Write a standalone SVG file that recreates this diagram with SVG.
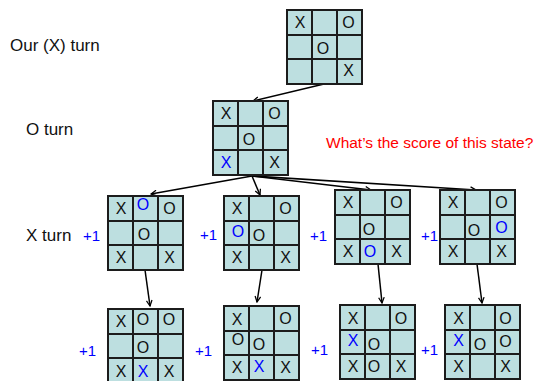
<svg xmlns="http://www.w3.org/2000/svg" width="540" height="381" viewBox="0 0 540 381">
<style>
.bd{fill:#bddfe0;stroke:#1c1c1c;stroke-width:2}
.gl{stroke:#1c1c1c;stroke-width:2}
.m{font-family:"Liberation Sans",Arial,sans-serif;font-size:16px;fill:#111;text-anchor:middle}
.b{fill:#0000ff}
.lbl{font-family:"Liberation Sans",Arial,sans-serif;font-size:17px;fill:#111}
.p1{font-family:"Liberation Sans",Arial,sans-serif;font-size:15px;fill:#0000ff}
.ar{stroke:#000;stroke-width:1.5;fill:none;marker-end:url(#ah)}
</style>
<defs>
<marker id="ah" viewBox="0 0 10 10" refX="9" refY="5" markerWidth="7" markerHeight="7" orient="auto" markerUnits="userSpaceOnUse">
<path d="M1,1 L9,5 L1,9" fill="none" stroke="#000" stroke-width="1.8"/>
</marker>
<g id="grid">
<rect class="bd" x="0" y="0" width="75" height="74"/>
<path class="gl" d="M25,0V74M50,0V74M0,25H75M0,49H75"/>
</g>
</defs>
<rect width="540" height="381" fill="#fff"/>

<text class="lbl" x="10" y="51">Our (X) turn</text>
<text class="lbl" x="26" y="135">O turn</text>
<text class="lbl" x="26" y="241">X turn</text>
<text x="326" y="148" style="font-family:'Liberation Sans',Arial,sans-serif;font-size:15.5px;fill:#ff0000">What’s the score of this state?</text>

<g id="connectors">
<line class="ar" x1="324" y1="84" x2="253" y2="101"/>
<line class="ar" x1="252" y1="176" x2="151" y2="194"/>
<line class="ar" x1="252" y1="176" x2="260" y2="195"/>
<line class="ar" x1="252" y1="176" x2="371" y2="190"/>
<line class="ar" x1="252" y1="176" x2="476" y2="190"/>
<line class="ar" x1="145" y1="270" x2="150" y2="306"/>
<line class="ar" x1="262" y1="270" x2="257" y2="302"/>
<line class="ar" x1="378" y1="264" x2="382" y2="303"/>
<line class="ar" x1="477" y1="264" x2="482" y2="303"/>
</g>

<g id="root" transform="translate(287,10)">
<use href="#grid"/>
<text class="m" x="13" y="18">X</text><text class="m" x="61.5" y="18">O</text>
<text class="m" x="36" y="44">O</text>
<text class="m" x="61.5" y="66">X</text>
</g>

<g id="oturn" transform="translate(213,101)">
<use href="#grid"/>
<text class="m" x="13" y="18">X</text><text class="m" x="61.5" y="18">O</text>
<text class="m" x="36" y="44">O</text>
<text class="m b" x="13" y="67">X</text><text class="m" x="61.5" y="67">X</text>
</g>

<g id="xa" transform="translate(108,196)">
<use href="#grid"/>
<text class="m" x="13" y="18">X</text><text class="m b" x="35" y="14">O</text><text class="m" x="61.5" y="18">O</text>
<text class="m" x="36" y="44">O</text>
<text class="m" x="13" y="67">X</text><text class="m" x="61.5" y="67">X</text>
</g>
<text class="p1" x="83" y="241">+1</text>

<g id="xb" transform="translate(224,196)">
<use href="#grid"/>
<text class="m" x="13" y="18">X</text><text class="m" x="61.5" y="18">O</text>
<text class="m b" x="14" y="41">O</text><text class="m" x="35" y="45">O</text>
<text class="m" x="13" y="67">X</text><text class="m" x="61.5" y="67">X</text>
</g>
<text class="p1" x="200" y="240">+1</text>

<g id="xc" transform="translate(335,190)">
<use href="#grid"/>
<text class="m" x="13" y="18">X</text><text class="m" x="61.5" y="18">O</text>
<text class="m" x="34" y="45">O</text>
<text class="m" x="13" y="67">X</text><text class="m b" x="35" y="67">O</text><text class="m" x="61.5" y="67">X</text>
</g>
<text class="p1" x="310" y="241">+1</text>

<g id="xd" transform="translate(440,190)">
<use href="#grid"/>
<text class="m" x="13" y="18">X</text><text class="m" x="61.5" y="18">O</text>
<text class="m" x="34" y="46">O</text><text class="m b" x="61.5" y="43">O</text>
<text class="m" x="13" y="67">X</text><text class="m" x="61.5" y="67">X</text>
</g>
<text class="p1" x="421" y="241">+1</text>

<g id="ye" transform="translate(108,309)">
<use href="#grid"/>
<text class="m" x="13" y="18">X</text><text class="m" x="35" y="16">O</text><text class="m" x="61" y="16">O</text>
<text class="m" x="35" y="44">O</text>
<text class="m" x="13" y="68">X</text><text class="m b" x="35" y="68">X</text><text class="m" x="61" y="68">X</text>
</g>
<text class="p1" x="79" y="356">+1</text>

<g id="yf" transform="translate(224,306)">
<use href="#grid"/>
<text class="m" x="13" y="19">X</text><text class="m" x="61.5" y="18">O</text>
<text class="m" x="14" y="39">O</text><text class="m" x="35" y="44">O</text>
<text class="m" x="13" y="67">X</text><text class="m b" x="35" y="66">X</text><text class="m" x="61.5" y="67">X</text>
</g>
<text class="p1" x="195" y="356">+1</text>

<g id="yg" transform="translate(340,305)">
<use href="#grid"/>
<text class="m" x="13" y="19">X</text><text class="m" x="61" y="19">O</text>
<text class="m b" x="13" y="41">X</text><text class="m" x="34" y="45">O</text>
<text class="m" x="13" y="67">X</text><text class="m" x="34" y="67">O</text><text class="m" x="61" y="67">X</text>
</g>
<text class="p1" x="311" y="355">+1</text>

<g id="yh" transform="translate(445,305)">
<use href="#grid"/>
<text class="m" x="13.5" y="19">X</text><text class="m" x="60.5" y="19">O</text>
<text class="m b" x="13.5" y="41">X</text><text class="m" x="35" y="45">O</text><text class="m" x="60.5" y="42">O</text>
<text class="m" x="13.5" y="67">X</text><text class="m" x="60.5" y="67">X</text>
</g>
<text class="p1" x="421" y="355">+1</text>
</svg>
